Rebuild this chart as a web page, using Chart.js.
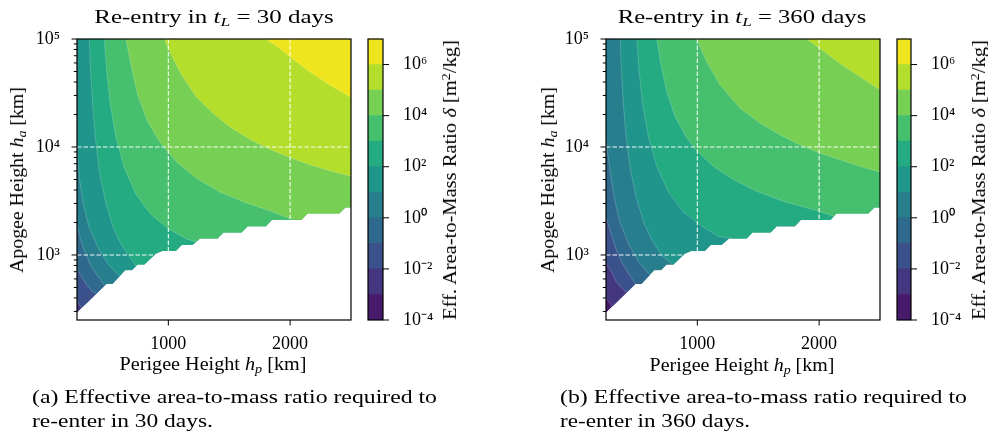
<!DOCTYPE html>
<html>
<head>
<meta charset="utf-8">
<script src="https://cdn.jsdelivr.net/npm/chart.js@4.4.1/dist/chart.umd.min.js"></script>
<style>
html, body { margin: 0; padding: 0; background: #fff; }
#page { position: relative; width: 988px; height: 433px; overflow: hidden; font-family: "Liberation Serif", "Times New Roman", serif; color: #000; }
.box { position: absolute; }
.t { position: absolute; white-space: nowrap; font-size: 18px; line-height: 1; }
.c { transform: translate(-50%, -50%); }
.r { transform: translate(-50%, -50%) rotate(-90deg); }
.l { transform: translate(0, -50%); transform-origin: 0 50%; }
sub { font-size: 70%; vertical-align: -0.25em; line-height: 0; }
sup { font-size: 70%; vertical-align: 0.45em; line-height: 0; }
</style>
</head>
<body>
<div id="page">
  <canvas class="box" id="main30" width="360" height="360" style="left:0;top:0"></canvas>
  <canvas class="box" id="cb30" width="110" height="360" style="left:360px;top:0"></canvas>
  <canvas class="box" id="main360" width="360" height="360" style="left:529px;top:0"></canvas>
  <canvas class="box" id="cb360" width="110" height="360" style="left:889px;top:0"></canvas>

  <div class="t c fit" data-w="240" style="left:214px;top:17px">Re-entry in <i>t</i><sub><i>L</i></sub> = 30 days</div>
  <div class="t r fit" data-w="186" style="left:17px;top:180px">Apogee Height <i>h</i><sub><i>a</i></sub> [km]</div>
  <div class="t c fit" data-w="187" style="left:213px;top:364px">Perigee Height <i>h</i><sub><i>p</i></sub> [km]</div>
  <div class="t r fit" data-w="280" style="left:450px;top:180px">Eff. Area-to-Mass Ratio <i>δ</i> [m<sup>2</sup>/kg]</div>
  <div class="t l fit" data-w="405" style="left:32px;top:397px">(a) Effective area-to-mass ratio required to</div>
  <div class="t l fit" data-w="181" style="left:32px;top:421px">re-enter in 30 days.</div>

  <div class="t c fit" data-w="249" style="left:742px;top:17px">Re-entry in <i>t</i><sub><i>L</i></sub> = 360 days</div>
  <div class="t r fit" data-w="186" style="left:548px;top:180px">Apogee Height <i>h</i><sub><i>a</i></sub> [km]</div>
  <div class="t c fit" data-w="185" style="left:742px;top:365px">Perigee Height <i>h</i><sub><i>p</i></sub> [km]</div>
  <div class="t r fit" data-w="280" style="left:979px;top:180px">Eff. Area-to-Mass Ratio <i>δ</i> [m<sup>2</sup>/kg]</div>
  <div class="t l fit" data-w="407" style="left:560px;top:397px">(b) Effective area-to-mass ratio required to</div>
  <div class="t l fit" data-w="190" style="left:560px;top:421px">re-enter in 360 days.</div>
</div>

<script>
// colour levels (one decade per band) and viridis band colours
var cbLevels = [1e-4, 1e-3, 1e-2, 1e-1, 1e0, 1e1, 1e2, 1e3, 1e4, 1e5, 1e6, 1e7];
var bandColors = ['#481a6c', '#453680', '#3b518b', '#30698e', '#277f8e', '#20958b', '#25ab82', '#46c06f', '#77d053', '#b4de2c', '#efe51f'];
var cbTicks = [1e-4, 1e-2, 1e0, 1e2, 1e4, 1e6];
var cbTickLabels = ['10⁻⁴', '10⁻²', '10⁰', '10²', '10⁴', '10⁶'];

var xRange = [250, 2500];
var yRange = [250, 1e5];
var xTicks = [1000, 2000];
var xTickLabels = ['1000', '2000'];
var yTicks = [1e3, 1e4, 1e5];
var yTickLabels = ['10³', '10⁴', '10⁵'];
var yMinorTicks = [300, 400, 500, 600, 700, 800, 900, 2000, 3000, 4000, 5000, 6000, 7000, 8000, 9000,
  20000, 30000, 40000, 50000, 60000, 70000, 80000, 90000];
var gridX = [1000, 2000];
var gridY = [1e3, 1e4];

// edge of the valid region (ha vs hp), [hp, ha] in km
var stairs = [[250, 292], [494, 540], [543, 540], [647, 722], [702, 722], [748, 814], [803, 814], [899, 1029],
  [954, 1088], [1063, 1088], [1112, 1237], [1200, 1237], [1260, 1415], [1405, 1415], [1454, 1608], [1602, 1608],
  [1652, 1839], [1802, 1839], [1851, 2104], [2095, 2104], [2144, 2407], [2404, 2407], [2454, 2735], [2500, 2735]];

// contour lines, t_L = 30 days, [hp, ha]
var c30_1em2 = [[250, 374], [269, 346], [288, 322]];
var c30_1em1 = [[250, 732], [283, 640], [324, 536], [365, 472], [412, 434]];
var c30_1e0 = [[250, 1919], [275, 1445], [310, 1089], [365, 791], [420, 640], [477, 525]];
var c30_1e1 = [[250, 9790], [269, 5173], [302, 2936], [351, 1788], [420, 1185], [502, 832], [598, 631]];
var c30_1e2 = [[351, 100000], [362, 49940], [379, 24590], [401, 12110], [433, 5963], [483, 3151], [548, 1788], [598, 1347], [666, 1014], [735, 791]];
var c30_1e3 = [[474, 100000], [494, 49940], [524, 24590], [570, 12110], [639, 6400], [735, 3631], [858, 2374], [1008, 1726], [1145, 1415], [1227, 1318]];
var c30_1e4 = [[652, 100000], [693, 57540], [748, 30420], [830, 17250], [926, 11280], [1063, 7373], [1227, 5173], [1419, 3842], [1638, 3042], [1857, 2512], [2021, 2134]];
var c30_1e5 = [[967, 100000], [1036, 66300], [1118, 44900], [1227, 29360], [1364, 20590], [1501, 15510], [1665, 11850], [1830, 9584], [1994, 8029], [2158, 6868], [2322, 6046], [2500, 5361]];
var c30_1e6 = [[1802, 100000], [1912, 82000], [2021, 65400], [2158, 49900], [2322, 37630], [2500, 28740]];

// contour lines, t_L = 360 days
var c360_1em3 = [[250, 390], [284, 356], [306, 327]];
var c360_1em2 = [[250, 832], [298, 687], [333, 567], [380, 492], [429, 440]];
var c360_1em1 = [[250, 2211], [290, 1608], [325, 1185], [380, 850], [434, 673], [497, 525]];
var c360_1e0 = [[250, 11280], [284, 5963], [317, 3382], [366, 1988], [434, 1272], [516, 868], [598, 673], [626, 654]];
var c360_1e1 = [[366, 100000], [377, 49940], [393, 24590], [415, 12540], [448, 6400], [497, 3431], [563, 1946], [639, 1300], [708, 993], [790, 832]];
var c360_1e2 = [[503, 100000], [522, 49940], [552, 24590], [598, 12540], [667, 6630], [762, 3842], [885, 2512], [1036, 1852], [1172, 1487], [1281, 1415]];
var c360_1e3 = [[667, 100000], [702, 57540], [749, 32650], [817, 19190], [913, 12110], [1000, 9120], [1131, 6630], [1295, 4994], [1486, 3897], [1705, 3151], [1896, 2735], [2003, 2530], [2128, 2275]];
var c360_1e4 = [[995, 100000], [1076, 61770], [1186, 37630], [1350, 22910], [1514, 16650], [1678, 12990], [1841, 10510], [2005, 8803], [2169, 7642], [2333, 6630], [2500, 5878]];
var c360_1e5 = [[1896, 100000], [2005, 82000], [2169, 59630], [2333, 44900], [2500, 33820]];

var exps30 = [-2, -1, 0, 1, 2, 3, 4, 5, 6];
var lines30 = [c30_1em2, c30_1em1, c30_1e0, c30_1e1, c30_1e2, c30_1e3, c30_1e4, c30_1e5, c30_1e6];
var exps360 = [-3, -2, -1, 0, 1, 2, 3, 4, 5];
var lines360 = [c360_1em3, c360_1em2, c360_1em1, c360_1e0, c360_1e1, c360_1e2, c360_1e3, c360_1e4, c360_1e5];

Chart.defaults.font.family = '"Liberation Serif", "Times New Roman", serif';
Chart.defaults.font.size = 18;
Chart.defaults.color = '#000';

function toXY(pts) {
  return pts.map(function (p) { return { x: p[0], y: p[1] }; });
}

function bandColor(exp) {
  return bandColors[exp + 4];
}

var mainDeco = {
  id: 'mainDeco',
  afterDatasetsDraw: function (chart) {
    var ctx = chart.ctx, a = chart.chartArea, xs = chart.scales.x, ys = chart.scales.y;
    ctx.save();
    ctx.strokeStyle = 'rgba(255,255,255,0.95)';
    ctx.lineWidth = 1.1;
    ctx.setLineDash([4.5, 2]);
    gridX.forEach(function (v) {
      var px = xs.getPixelForValue(v);
      ctx.beginPath(); ctx.moveTo(px, a.top); ctx.lineTo(px, a.bottom); ctx.stroke();
    });
    gridY.forEach(function (v) {
      var py = ys.getPixelForValue(v);
      ctx.beginPath(); ctx.moveTo(a.left, py); ctx.lineTo(a.right, py); ctx.stroke();
    });
    ctx.setLineDash([]);
    ctx.strokeStyle = '#000';
    ctx.lineWidth = 1.2;
    ctx.strokeRect(a.left, a.top, a.right - a.left, a.bottom - a.top);
    ctx.lineWidth = 1;
    ctx.beginPath();
    yTicks.forEach(function (v) {
      var py = ys.getPixelForValue(v);
      ctx.moveTo(a.left, py); ctx.lineTo(a.left - 5.5, py);
    });
    yMinorTicks.forEach(function (v) {
      var py = ys.getPixelForValue(v);
      ctx.moveTo(a.left, py); ctx.lineTo(a.left - 3.2, py);
    });
    xTicks.forEach(function (v) {
      var px = xs.getPixelForValue(v);
      ctx.moveTo(px, a.bottom); ctx.lineTo(px, a.bottom + 5.5);
    });
    ctx.stroke();
    ctx.restore();
  }
};

var cbDeco = {
  id: 'cbDeco',
  afterDatasetsDraw: function (chart) {
    var ctx = chart.ctx, a = chart.chartArea, ys = chart.scales.y;
    ctx.save();
    ctx.strokeStyle = '#000';
    ctx.lineWidth = 1.2;
    ctx.strokeRect(a.left, a.top, a.right - a.left, a.bottom - a.top);
    ctx.lineWidth = 1;
    ctx.beginPath();
    cbTicks.forEach(function (v) {
      var py = ys.getPixelForValue(v);
      ctx.moveTo(a.right, py); ctx.lineTo(a.right + 6, py);
    });
    ctx.stroke();
    ctx.restore();
  }
};

function makePanel(id, baseExp, exps, lines) {
  var datasets = [];
  // white mask below the valid region (index 0 is drawn on top)
  datasets.push({ data: toXY(stairs), fill: 'start', backgroundColor: '#ffffff', borderWidth: 0 });
  // thin contour edges
  lines.forEach(function (ln) {
    datasets.push({ data: toXY(ln), fill: false, borderColor: 'rgba(255,255,255,0.28)', borderWidth: 0.7 });
  });
  // filled bands, highest level first
  for (var i = lines.length - 1; i >= 0; i--) {
    var pts = lines[i].slice();
    var lastX = pts[pts.length - 1][0];
    if (lastX < xRange[1]) {
      stairs.forEach(function (s) { if (s[0] > lastX) pts.push(s); });
    }
    datasets.push({ data: toXY(pts), fill: 'end', backgroundColor: bandColor(exps[i]), borderWidth: 0 });
  }
  datasets.push({ data: toXY(stairs), fill: 'end', backgroundColor: bandColor(baseExp), borderWidth: 0 });

  return new Chart(document.getElementById(id), {
    type: 'line',
    data: { datasets: datasets },
    options: {
      responsive: false,
      animation: false,
      events: [],
      layout: { padding: { left: 0, right: 9, top: 39, bottom: 0 } },
      elements: { point: { radius: 0 }, line: { tension: 0 } },
      plugins: { legend: { display: false }, tooltip: { enabled: false } },
      scales: {
        x: {
          type: 'linear', min: xRange[0], max: xRange[1],
          grid: { display: false }, border: { display: false },
          afterBuildTicks: function (s) { s.ticks = xTicks.map(function (v) { return { value: v }; }); },
          afterFit: function (s) { s.height = 40; },
          ticks: { autoSkip: false, maxRotation: 0, padding: 5, callback: function (v, i) { return xTickLabels[i]; } }
        },
        y: {
          type: 'logarithmic', min: yRange[0], max: yRange[1],
          grid: { display: false }, border: { display: false },
          afterBuildTicks: function (s) { s.ticks = yTicks.map(function (v) { return { value: v }; }); },
          afterFit: function (s) { s.width = 77; },
          ticks: { autoSkip: false, padding: 9, callback: function (v, i) { return yTickLabels[i]; } }
        }
      }
    },
    plugins: [mainDeco]
  });
}

function makeColorbar(id, yWidth) {
  var datasets = [];
  for (var i = 0; i < bandColors.length; i++) {
    datasets.push({
      data: [[cbLevels[i], cbLevels[i + 1]]],
      backgroundColor: bandColors[i],
      borderWidth: 0,
      grouped: false,
      barPercentage: 1,
      categoryPercentage: 1
    });
  }
  return new Chart(document.getElementById(id), {
    type: 'bar',
    data: { labels: [''], datasets: datasets },
    options: {
      responsive: false,
      animation: false,
      events: [],
      layout: { padding: { left: 8, right: 0, top: 39, bottom: 40 } },
      plugins: { legend: { display: false }, tooltip: { enabled: false } },
      scales: {
        x: { display: false },
        y: {
          type: 'logarithmic', position: 'right', min: cbLevels[0], max: cbLevels[cbLevels.length - 1],
          grid: { display: false }, border: { display: false },
          afterBuildTicks: function (s) { s.ticks = cbTicks.map(function (v) { return { value: v }; }); },
          afterFit: function (s) { s.width = yWidth; },
          ticks: { autoSkip: false, padding: 12, callback: function (v, i) { return cbTickLabels[i]; } }
        }
      }
    },
    plugins: [cbDeco]
  });
}

// stretch each text line to the width it has in the figure
function fitTexts() {
  document.querySelectorAll('.fit').forEach(function (el) {
    var target = parseFloat(el.getAttribute('data-w'));
    var s = target / el.offsetWidth;
    var base = el.classList.contains('r') ? 'translate(-50%, -50%) rotate(-90deg)'
      : el.classList.contains('l') ? 'translate(0, -50%)' : 'translate(-50%, -50%)';
    el.style.transform = base + ' scaleX(' + s.toFixed(3) + ')';
  });
}

fitTexts();
makePanel('main30', -3, exps30, lines30);
makeColorbar('cb30', 87);
makePanel('main360', -4, exps360, lines360);
makeColorbar('cb360', 88);
</script>
</body>
</html>
